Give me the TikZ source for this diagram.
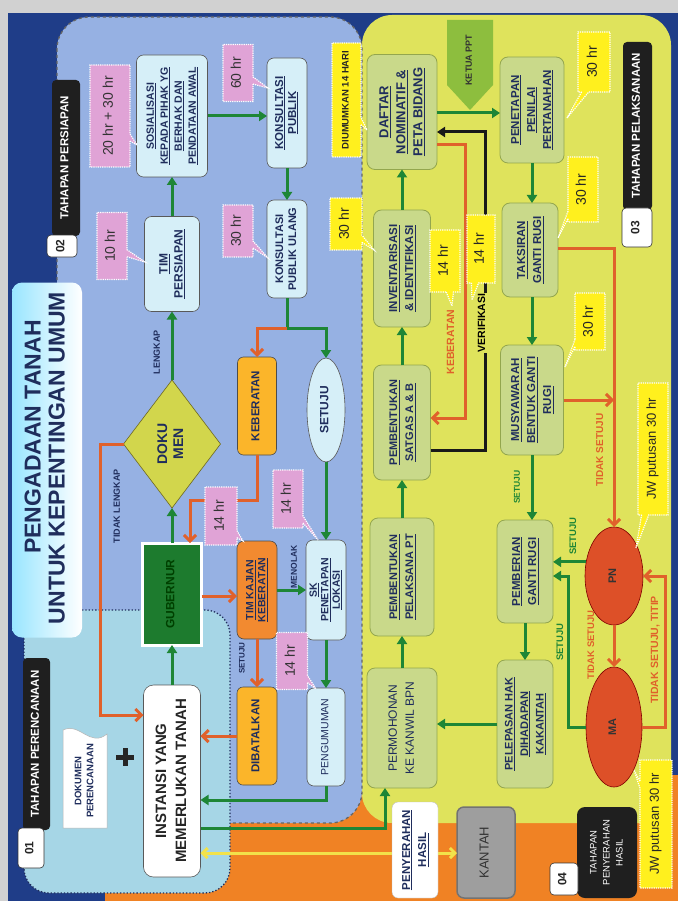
\documentclass[tikz,border=0pt]{standalone}
\usepackage{fontspec}
\setmainfont{Liberation Sans}
\usepackage{graphicx}
\usetikzlibrary{shapes.geometric,shapes.callouts,arrows.meta}

\definecolor{navy}{HTML}{1F3D88}
\definecolor{bluereg}{HTML}{96B1E3}
\definecolor{cyanreg}{HTML}{A6D6E6}
\definecolor{yelreg}{HTML}{DFE35C}
\definecolor{orgbg}{HTML}{F08224}
\definecolor{cbox}{HTML}{D6EFF8}
\definecolor{obox}{HTML}{C9D98A}
\definecolor{oboxd}{HTML}{93A64E}
\definecolor{pinkc}{HTML}{E0A3D6}
\definecolor{yelc}{HTML}{FFF01E}
\definecolor{amber}{HTML}{FBB52A}
\definecolor{orbox}{HTML}{F28A30}
\definecolor{gubg}{HTML}{1D7B2E}
\definecolor{garr}{HTML}{1E8636}
\definecolor{oarr}{HTML}{E0612B}
\definecolor{redel}{HTML}{DD5028}
\definecolor{diam}{HTML}{D2D64C}
\definecolor{ketuac}{HTML}{8DBE3E}
\definecolor{labnavy}{HTML}{1F2D5C}
\definecolor{grbox}{HTML}{9E9E9E}
\definecolor{yline}{HTML}{F2E24A}

\newcommand{\rtxt}[1]{\rotatebox{90}{\begin{tabular}{@{}c@{}}#1\end{tabular}}}
\newcommand{\uln}[1]{\underline{#1}}
\newcommand{\fsz}[2]{\fontsize{#1}{#2}\selectfont}

\tikzset{
 every node/.style={inner sep=0pt, outer sep=0pt},
 sz/.style 2 args={minimum width=#1pt, minimum height=#2pt},
 cb/.style={rectangle, rounded corners=7pt, fill=cbox, draw=gray!70!black, line width=0.6pt, text=labnavy},
 ob/.style={rectangle, rounded corners=8pt, fill=obox, draw=oboxd, line width=0.8pt, text=labnavy},
 ab/.style={rectangle, rounded corners=6pt, fill=amber, draw=gray!60!black, line width=0.6pt, text=labnavy},
 blk/.style={rectangle, rounded corners=4pt, fill=black!88, text=white},
 numb/.style={rectangle, rounded corners=4pt, fill=white, draw=black!80, line width=0.6pt, text=black!85},
 pc/.style={rectangle callout, fill=pinkc, draw=white, densely dotted, line width=1.2pt, text=black!80, font=\fsz{14}{14}},
 yc/.style={rectangle callout, fill=yelc, draw=white, densely dotted, line width=1.2pt, text=black!85, font=\fsz{14}{14}},
 lbl/.style={font=\fsz{9}{9}\bfseries, text=labnavy},
 gline/.style={draw=garr, line width=3pt},
 ga/.style={draw=garr, line width=3pt, -{Triangle[length=8pt,width=10pt]}},
 oa/.style={draw=oarr, line width=3pt, -{Straight Barb[length=6pt,width=12pt]}},
 ka/.style={draw=black!90, line width=3pt, -{Triangle[length=8pt,width=10pt]}},
 ya/.style={draw=yline, line width=3pt, {Straight Barb[length=5pt,width=10pt]}-{Straight Barb[length=5pt,width=10pt]}},
}

\begin{document}
\begin{tikzpicture}[x=1pt,y=-1pt]
\useasboundingbox (0,0) rectangle (678,901);
% ---------- backgrounds ----------
\fill[black!18] (0,0) rectangle (678,901);
\fill[navy] (8,13) rectangle (678,901);
\fill[orgbg] (105,775) rectangle (678,901);
\fill[yelreg, rounded corners=30pt] (362,15) rectangle (671,823);
\filldraw[fill=bluereg, draw=black!60, dashed, line width=1.3pt, rounded corners=32pt] (57,17) rectangle (362,823);
\filldraw[fill=cyanreg, draw=labnavy, dotted, line width=1.3pt, rounded corners=25pt] (24,610) rectangle (230,893);
\node[rectangle, rounded corners=10pt, left color=blue!25!cyan!40, right color=white, sz={70}{355}] (titlebox) at (47,460) {};
\node[font=\fsz{23}{23}\bfseries, text=labnavy] (t1) at (36,437) {\rtxt{PENGADAAN TANAH}};
\node[font=\fsz{23}{23}\bfseries, text=labnavy] (t2) at (60,458) {\rtxt{UNTUK KEPENTINGAN UMUM}};

% ---------- persiapan ----------
\node[blk, sz={28}{156}, font=\fsz{11.5}{12}\bfseries] (lab02) at (66,158) {\rtxt{TAHAPAN PERSIAPAN}};
\node[numb, sz={30}{22}, font=\fsz{12}{12}\bfseries] (num02) at (62,246) {\rtxt{02}};
\node[cb, sz={71}{122}, font=\fsz{10.5}{14}\bfseries] (sos) at (172,116) {\rtxt{\uln{SOSIALISASI}\\\uln{KEPADA PIHAK YG}\\\uln{BERHAK DAN}\\\uln{PENDATAAN AWAL}}};
\node[cb, sz={55}{95}, font=\fsz{12}{15}\bfseries] (tim) at (172,264) {\rtxt{\uln{TIM}\\\uln{PERSIAPAN}}};
\node[cb, sz={40}{110}, font=\fsz{11.5}{13}\bfseries] (kp) at (287,113) {\rtxt{\uln{KONSULTASI}\\\uln{PUBLIK}}};
\node[cb, sz={40}{98}, font=\fsz{11}{13}\bfseries] (kpu) at (287,249) {\rtxt{KONSULTASI\\PUBLIK ULANG}};
\node[diamond, fill=diam, draw=olive!70!black, line width=0.6pt, sz={97}{128}, font=\fsz{14}{16}\bfseries, text=labnavy] (dok) at (172,444) {\rtxt{DOKU\\MEN}};
\node[ab, sz={39}{98}, font=\fsz{11.5}{12}\bfseries] (keb) at (257,406) {\rtxt{KEBERATAN}};
\node[ellipse, fill=cbox, draw=gray!70!black, line width=0.6pt, sz={38}{104}, font=\fsz{12}{12}\bfseries, text=labnavy] (setu) at (326,410) {\rtxt{SETUJU}};
\node[rectangle, fill=gubg, draw=white, line width=3pt, sz={59}{102}, font=\fsz{12}{12}\bfseries, text=green!25!black] (gub) at (172,594) {\rtxt{GUBERNUR}};
\node[rectangle, rounded corners=7pt, fill=orbox, draw=gray!60!black, line width=0.6pt, sz={40}{98}, font=\fsz{10.5}{12}\bfseries, text=labnavy] (tk) at (257,590) {\rtxt{\uln{TIM KAJIAN}\\\uln{KEBERATAN}}};
\node[cb, sz={40}{100}, font=\fsz{10.5}{11.5}\bfseries] (sk) at (326,590) {\rtxt{\uln{SK}\\\uln{PENETAPAN}\\\uln{LOKASI}}};
\node[ab, sz={40}{98}, font=\fsz{11.5}{12}\bfseries] (dib) at (257,736) {\rtxt{DIBATALKAN}};
\node[cb, sz={38}{98}, font=\fsz{10.5}{12}] (peng) at (326,737) {\rtxt{PENGUMUMAN}};
\node[rectangle, rounded corners=10pt, fill=white, draw=gray!70!black, line width=0.6pt, sz={57}{192}, font=\fsz{15}{20}\bfseries, text=black!85] (inst) at (172,781) {\rtxt{INSTANSI YANG\\MEMERLUKAN TANAH}};
\filldraw[fill=white, draw=gray!60, line width=0.5pt] (63,828) -- (63,730) .. controls (80,722) and (90,748) .. (107,734) -- (107,828) -- cycle;
\node[font=\fsz{9.5}{12}\bfseries, text=labnavy] (docp) at (85,781) {\rtxt{DOKUMEN\\PERENCANAAN}};
\draw[line width=5pt, black!85] (116,757) -- (134,757) (125,748) -- (125,766);
\node[blk, sz={27}{172}, font=\fsz{11.5}{12}\bfseries] (lab01) at (36.5,744) {\rtxt{TAHAPAN PERENCANAAN}};
\node[numb, sz={26}{40}, font=\fsz{12}{12}\bfseries] (num01) at (31,848) {\rtxt{01}};

% ---------- pelaksanaan ----------
\node[ob, sz={70}{115}, font=\fsz{13}{17}\bfseries] (daf) at (402,112) {\rtxt{\uln{DAFTAR}\\\uln{NOMINATIF \&}\\\uln{PETA BIDANG}}};
\fill[ketuac] (447,20) -- (493,20) -- (493,85) -- (470,110) -- (447,85) -- cycle;
\node[font=\fsz{9}{9}\bfseries, text=black!80] (ketua) at (470,60) {\rtxt{KETUA PPT}};
\node[ob, sz={64}{106}, font=\fsz{11.5}{16}\bfseries] (pen) at (532,110) {\rtxt{\uln{PENETAPAN}\\\uln{PENILAI}\\\uln{PERTANAHAN}}};
\node[blk, sz={29}{168}, font=\fsz{11.5}{12}\bfseries] (lab03) at (637.5,126) {\rtxt{TAHAPAN PELAKSANAAN}};
\node[numb, sz={30}{39}, font=\fsz{12}{12}\bfseries] (num03) at (637,227.5) {\rtxt{03}};
\node[ob, sz={57}{117}, font=\fsz{11.5}{16}\bfseries] (inv) at (402,268.5) {\rtxt{\uln{INVENTARISASI}\\\uln{\& IDENTIFIKASI}}};
\node[ob, sz={57}{115}, font=\fsz{11}{16}\bfseries] (sat) at (402,422.5) {\rtxt{\uln{PEMBENTUKAN}\\\uln{SATGAS A \& B}}};
\node[ob, sz={64}{118}, font=\fsz{11}{16}\bfseries] (pt) at (402,577) {\rtxt{\uln{PEMBENTUKAN}\\\uln{PELAKSANA PT}}};
\node[ob, sz={70}{120}, font=\fsz{12}{17}] (perm) at (402,728) {\rtxt{PERMOHONAN\\KE KANWIL BPN}};
\node[ob, sz={56}{94}, font=\fsz{11.5}{16}\bfseries] (tak) at (530,250) {\rtxt{\uln{TAKSIRAN}\\\uln{GANTI RUGI}}};
\node[ob, sz={63}{110}, font=\fsz{11.5}{16}\bfseries] (mus) at (532,400) {\rtxt{\uln{MUSYAWARAH}\\\uln{BENTUK GANTI}\\\uln{RUGI}}};
\node[ob, sz={56}{103}, font=\fsz{11.5}{16}\bfseries] (pemb) at (525,571.5) {\rtxt{\uln{PEMBERIAN}\\\uln{GANTI RUGI}}};
\node[ob, sz={56}{128}, font=\fsz{11}{15.5}\bfseries] (pel) at (525,724) {\rtxt{\uln{PELEPASAN HAK}\\\uln{DIHADAPAN}\\\uln{KAKANTAH}}};
\node[ellipse, fill=redel, draw=red!50!black, line width=0.6pt, sz={58}{98}, font=\fsz{11}{11}\bfseries, text=black!80] (pn) at (614,576) {\rtxt{PN}};
\node[ellipse, fill=redel, draw=red!50!black, line width=0.6pt, sz={56}{120}, font=\fsz{11}{11}\bfseries, text=black!80] (ma) at (614,727) {\rtxt{MA}};
\node[rectangle, rounded corners=7pt, fill=grbox, draw=black!55, line width=1.5pt, sz={58}{91}, font=\fsz{13}{13}, text=black!80] (kantah) at (486,852.5) {\rtxt{KANTAH}};
\node[blk, rounded corners=8pt, sz={60}{91}, font=\fsz{9.5}{13}] (lab04) at (607,852.5) {\rtxt{TAHAPAN\\PENYERAHAN\\HASIL}};
\node[numb, sz={28}{32}, font=\fsz{12}{12}\bfseries] (num04) at (564,879) {\rtxt{04}};

% ---------- connectors ----------
\draw[ga] (tim.north) -- (sos.south);
\draw[ga] (sos.east) -- (sos.east -| kp.west);
\draw[ga] (kp.south) -- (kpu.north);
\draw[gline] (kpu.south) -- ++(0,30) coordinate (split);
\draw[ga] (split) -| (setu.north);
\draw[oa] (split) -| (keb.north);
\draw[ga] (dok.north) -- (tim.south);
\draw[ga] (gub.north) -- (dok.south);
\draw[ga] (inst.north) -- (gub.south);
\draw[ga] (setu.south) -- (sk.north);
\draw[ga] (tk.east) -- (sk.west);
\draw[ga] (sk.south) -- (peng.north);
\draw[ga] (peng.south) |- (inst.east |- 0,800);
\draw[ga] (inst.east |- 0,828) -| ([xshift=-17pt]perm.south);
\draw[oa] (keb.south) -- ++(0,45) -| ([xshift=18pt]gub.north);
\draw[oa] (dok.west) -| (100,715) -- (inst.west |- 0,715);
\draw[oa] (gub.east |- 0,596) -- (tk.west |- 0,596);
\draw[oa] (tk.south) -- (dib.north);
\draw[oa] (dib.west) -- (dib.west -| inst.east);
\draw[ya] (inst.east |- 0,853) -- (kantah.west |- 0,853);

\draw[ga] (daf.east |- 0,113) -- (pen.west |- 0,113);
\draw[ga] (inv.north) -- (daf.south);
\draw[ga] (sat.north) -- (inv.south);
\draw[ga] (pt.north) -- (sat.south);
\draw[ga] (perm.north) -- (pt.south);
\draw[ga] (pen.south) -- (pen.south |- tak.north);
\draw[ga] (tak.south -| mus.north) -- (mus.north);
\draw[ga] (mus.south) -- (mus.south |- pemb.north);
\draw[ga] (pemb.south) -- (pel.north);
\draw[ga] (pel.west) -- (pel.west -| perm.east);
\draw[ga] (pn.153) -- (pn.153 -| pemb.east);
\draw[ga] (ma.west) -| (568,600) |- (pemb.east |- 0,576);
\draw[oa] (daf.east |- 0,145) -| (465,418) -- (sat.east |- 0,418);
\draw[ka] (sat.east |- 0,450) -| (485,132) -- (daf.east |- 0,132);
\draw[oa] (tak.east |- 0,248) -| (pn.north);
\draw[oa] (mus.east |- 0,400) -- (pn.north |- 0,400);
\draw[oa] (pn.south) -- (ma.north);
\draw[oa] (ma.east) -| (665,650) |- (pn.east);

% ---------- callouts & labels on top ----------
\node[pc, sz={40}{102}, callout absolute pointer={(137,145)}] (c1) at (110,116) {\rtxt{20 hr + 30 hr}};
\node[pc, sz={30}{67}, callout absolute pointer={(145,262)}] (c2) at (112,246) {\rtxt{10 hr}};
\node[pc, sz={30}{57}, callout absolute pointer={(268,88)}] (c3) at (238,73) {\rtxt{60 hr}};
\node[pc, sz={30}{52}, callout absolute pointer={(268,258)}] (c4) at (238,231) {\rtxt{30 hr}};
\node[pc, sz={32}{58}, callout absolute pointer={(243,541)}] (c5) at (221,516) {\rtxt{14 hr}};
\node[pc, sz={30}{58}, callout absolute pointer={(318,540)}] (c6) at (288,499) {\rtxt{14 hr}};
\node[pc, sz={31}{57}, callout absolute pointer={(316,689)}] (c7) at (292,661) {\rtxt{14 hr}};
\node[yc, sz={29}{114}, callout absolute pointer={(367,130)}, font=\fsz{9.5}{10}\bfseries] (c8) at (346.5,100) {\rtxt{DIUMUMKAN 14 HARI}};
\node[yc, sz={32}{60}, callout absolute pointer={(567,118)}] (c9) at (594,62) {\rtxt{30 hr}};
\node[yc, sz={32}{52}, callout absolute pointer={(374,250)}] (c10) at (346,224) {\rtxt{30 hr}};
\node[yc, sz={30}{62}, callout absolute pointer={(452,306)}] (c11) at (445,261) {\rtxt{14 hr}};
\node[yc, sz={28}{68}, callout absolute pointer={(472,300)}] (c12) at (481,249) {\rtxt{14 hr}};
\node[yc, sz={30}{65}, callout absolute pointer={(558,238)}] (c13) at (583,189.5) {\rtxt{30 hr}};
\node[yc, sz={30}{57}, callout absolute pointer={(565,367)}] (c14) at (590,321.5) {\rtxt{30 hr}};
\node[yc, sz={30}{132}, callout absolute pointer={(636,548)}, font=\fsz{13}{13}] (c15) at (653,449) {\rtxt{JW putusan 30 hr}};
\node[yc, sz={32}{128}, callout absolute pointer={(634,770)}, font=\fsz{13}{13}] (c16) at (656,824) {\rtxt{JW putusan 30 hr}};

\node[rectangle, rounded corners=6pt, fill=white, draw=gray!50, sz={46}{96}, font=\fsz{11.5}{16}\bfseries, text=labnavy] (peny) at (415,850) {\rtxt{\uln{PENYERAHAN}\\\uln{HASIL}}};

\node[lbl] (llengkap) at (158,352) {\rtxt{LENGKAP}};
\node[lbl] (ltl) at (118,506) {\rtxt{TIDAK LENGKAP}};
\node[lbl, font=\fsz{8.5}{9}\bfseries] (lmenolak) at (295,567) {\rtxt{MENOLAK}};
\node[lbl, font=\fsz{8}{8}\bfseries] (lset1) at (243,658) {\rtxt{SETUJU}};
\node[lbl, text=oarr, font=\fsz{10.5}{11}\bfseries] (lkeb) at (452,342) {\rtxt{KEBERATAN}};
\node[lbl, text=black, fill=yelreg, inner sep=1pt, font=\fsz{10.5}{11}\bfseries] (lver) at (483,323) {\rtxt{VERIFIKASI}};
\node[lbl, text=oarr, font=\fsz{10}{10}\bfseries] (lts1) at (601,450) {\rtxt{TIDAK SETUJU}};
\node[lbl, text=garr, font=\fsz{8.5}{9}\bfseries] (lset2) at (518,487) {\rtxt{SETUJU}};
\node[lbl, text=garr, font=\fsz{9.5}{10}\bfseries] (lset3) at (574,536) {\rtxt{SETUJU}};
\node[lbl, text=garr, font=\fsz{9.5}{10}\bfseries] (lset4) at (561,642) {\rtxt{SETUJU}};
\node[lbl, text=oarr, font=\fsz{9.5}{10}\bfseries] (lts2) at (592,645) {\rtxt{TIDAK SETUJU}};
\node[lbl, text=oarr, font=\fsz{10.5}{11}\bfseries] (lts3) at (656,650) {\rtxt{TIDAK SETUJU, TITIP}};
\end{tikzpicture}
\end{document}
